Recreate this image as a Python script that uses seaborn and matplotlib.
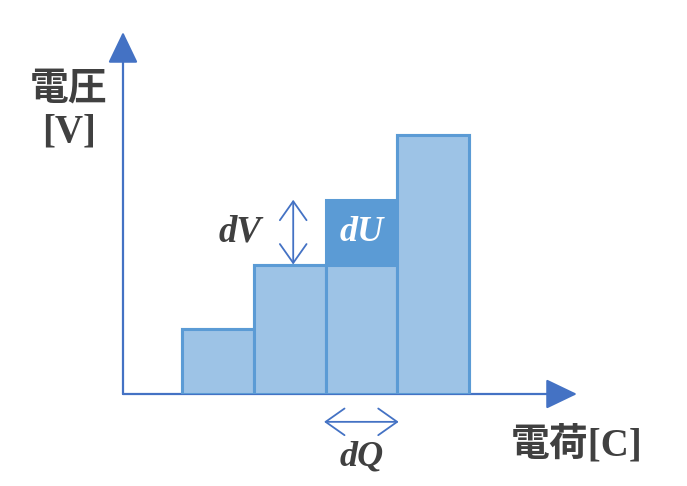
import matplotlib
matplotlib.use("Agg")
import matplotlib.pyplot as plt
import seaborn as sns
import pandas as pd

# ---- data ----
charges = ["Q1", "Q2", "Q3", "Q4"]
voltages = [1, 2, 2, 4]
energy_step = [0, 0, 1, 0]   # dU on top of third bar

x_label = "電荷[C]"
y_label = "電圧\n[V]"

BAR_FILL = "#9DC3E6"
BAR_EDGE = "#5B9BD5"
DU_FILL = "#5B9BD5"
AXIS_C = "#4472C4"
TEXT_C = "#404040"

sns.set_theme(style="white")
plt.rcParams["font.family"] = ["Liberation Serif", "Noto Sans CJK JP", "DejaVu Sans"]

fig = plt.figure(figsize=(6.87, 4.86), dpi=100)
ax = fig.add_axes([123 / 687, 92 / 486, (577 - 123) / 687, (394 - 32) / 486])

df = pd.DataFrame({"charge": charges, "voltage": voltages,
                   "total": [v + e for v, e in zip(voltages, energy_step)]})

sns.barplot(data=df, x="charge", y="total", order=charges, width=1.0,
            color=DU_FILL, saturation=1, edgecolor=DU_FILL, linewidth=2.2,
            zorder=3, ax=ax)
sns.barplot(data=df, x="charge", y="voltage", order=charges, width=1.0,
            color=BAR_FILL, saturation=1, edgecolor=BAR_EDGE, linewidth=2.2,
            zorder=4, ax=ax)

ax.set_xlim(-0.5 - 59 / 71.75, -0.5 + (577 - 182) / 71.75)
ax.set_ylim(0, (394 - 32) / 64.75)
for s in ax.spines.values():
    s.set_visible(False)
ax.set_xticks([])
ax.set_yticks([])
ax.set_xlabel("")
ax.set_ylabel("")
ax.patch.set_alpha(0)

# axes arrows
arrow_kw = dict(arrowstyle="-|>,head_length=1.0,head_width=0.48", color=AXIS_C,
                lw=1.6, mutation_scale=19.5, shrinkA=0, shrinkB=0)
ax.annotate("", xy=(0, 1), xytext=(0, 0), xycoords="axes fraction",
            arrowprops=arrow_kw, annotation_clip=False, zorder=2)
ax.annotate("", xy=(1, 0), xytext=(0, 0), xycoords="axes fraction",
            arrowprops=arrow_kw, annotation_clip=False, zorder=2)

dbl_kw = dict(arrowstyle="<->,head_length=0.68,head_width=0.48",
              color=AXIS_C, lw=1.3, mutation_scale=20, shrinkA=0, shrinkB=0)

# dV arrow
dv_x = 1.05
ax.annotate("", xy=(dv_x, voltages[2] + energy_step[2]), xytext=(dv_x, voltages[1]),
            arrowprops=dbl_kw, annotation_clip=False, zorder=5)
ax.text(0.31, voltages[1] + 0.5, "dV", fontsize=26.5, fontstyle="italic",
        fontweight="bold", color=TEXT_C, ha="center", va="center", zorder=6)

# dU label
ax.text(2, voltages[2] + energy_step[2] / 2, "dU", fontsize=26, fontstyle="italic",
        fontweight="bold", color="white", ha="center", va="center", zorder=6)

# dQ arrow
ax.annotate("", xy=(2.52, -0.43), xytext=(1.48, -0.43),
            arrowprops=dbl_kw, annotation_clip=False, zorder=5)
ax.text(2.01, -0.97, "dQ", fontsize=26, fontstyle="italic", fontweight="bold",
        color=TEXT_C, ha="center", va="center", clip_on=False)

# axis labels
fig.text(69 / 687, 1 - 111 / 486, y_label, fontsize=28, fontweight="bold",
         color=TEXT_C, ha="center", va="center", linespacing=1.15)
fig.text(577 / 687, 1 - 445 / 486, x_label, fontsize=28, fontweight="bold",
         color=TEXT_C, ha="center", va="center")

fig.savefig("out.png", dpi=100)
